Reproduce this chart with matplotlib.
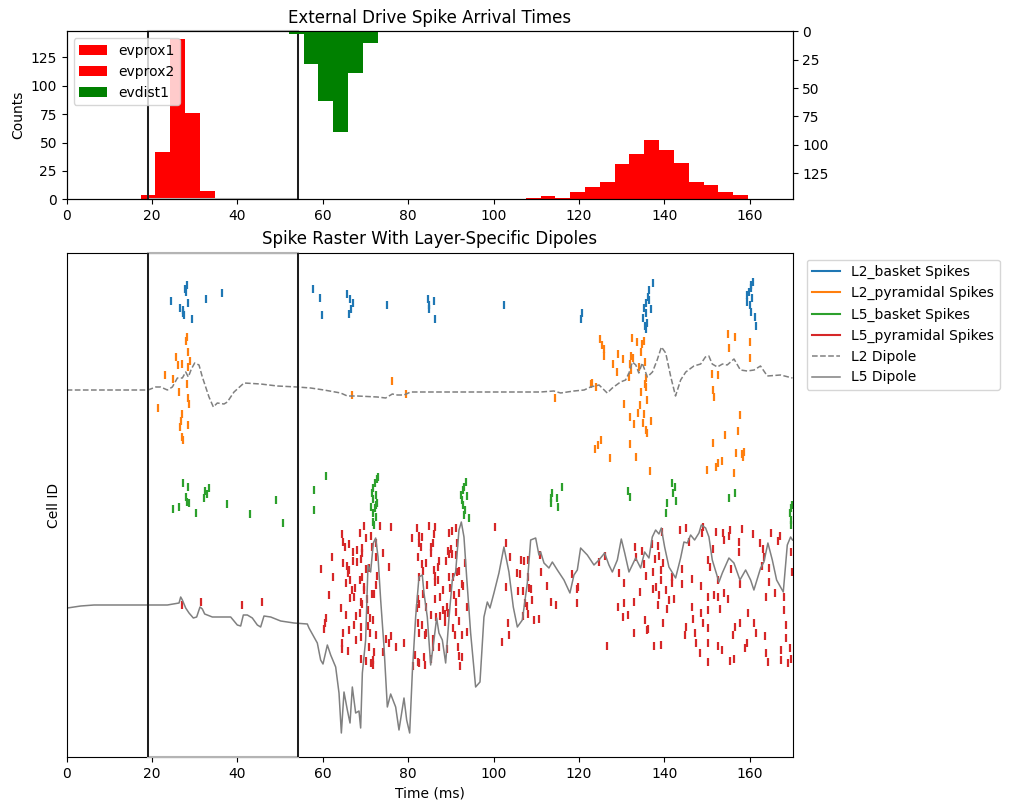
import numpy as np
import matplotlib
matplotlib.use("Agg")
import matplotlib.pyplot as plt
from matplotlib.lines import Line2D
from matplotlib.patches import Rectangle

# ---------------- external drive histograms ----------------
evprox1_left = [17.3, 20.77, 24.24, 27.71, 31.18]
evprox1_counts = [4, 42, 141, 76, 7]
evprox2_left = [107.52, 110.99, 114.46, 117.93, 121.4, 124.87, 128.34, 131.81,
                135.28, 138.75, 142.22, 145.69, 149.16, 152.63, 156.1]
evprox2_counts = [1, 3, 1, 6, 11, 15, 31, 40, 52, 43, 32, 15, 13, 6, 4]
evdist1_left = [52.0, 55.47, 58.94, 62.41, 65.88, 69.35]
evdist1_counts = [2, 29, 61, 89, 37, 10]
bin_width = 3.47

window = (19.0, 54.2)

# ---------------- spikes (time ms, cell id) ----------------
l2_basket_t = [28.26, 27.63, 27.87, 24.36, 28.49, 32.55, 36.30, 26.46, 27.32, 27.17, 27.40, 29.27,
               57.61, 59.25, 59.72, 65.57, 66.28, 66.98, 66.51, 66.04, 74.94, 84.54, 84.78, 84.78, 85.95, 86.18, 102.34,
               120.61, 120.38, 137.24, 136.30, 136.22, 136.46, 135.60, 135.21, 136.77, 135.68, 134.90, 135.83, 135.44, 135.68,
               160.73, 160.34, 160.19, 159.88, 159.41, 160.42, 159.25, 160.03, 160.19, 161.12, 161.36]
l2_basket_id = [471, 467, 464, 455, 453, 457, 463, 448, 446, 443, 441, 437,
                467, 458, 441, 462, 457, 453, 447, 442, 451, 457, 451, 447, 455, 437, 451,
                443, 437, 473, 466, 459, 456, 453, 448, 447, 443, 438, 433, 430, 427,
                474, 471, 468, 464, 461, 458, 454, 451, 444, 439, 430]

l2_pyr = [(28.10, 419), (27.87, 415), (28.34, 404), (25.53, 399), (28.80, 395), (26.0, 391), (26.93, 392),
          (28.34, 389), (22.95, 381), (24.82, 377), (28.10, 372), (26.23, 364), (28.34, 358), (28.57, 352),
          (21.31, 348), (26.93, 342), (26.70, 335), (26.46, 329), (28.34, 331), (26.93, 319), (27.17, 316),
          (76.11, 375), (66.75, 361), (79.39, 362),
          (114.29, 358), (124.83, 417), (125.30, 411), (125.76, 407), (125.76, 400), (127.87, 392), (129.04, 402),
          (130.21, 397), (128.81, 384), (122.72, 372), (122.95, 373), (123.89, 369), (132.09, 400), (132.55, 398),
          (132.32, 418), (133.49, 414), (134.66, 412), (135.13, 415), (134.43, 404), (135.36, 394), (131.85, 392),
          (132.09, 386), (131.62, 379), (134.04, 389), (135.68, 378), (135.36, 372), (135.60, 369), (134.43, 364),
          (135.83, 356), (130.45, 352), (134.19, 351), (133.73, 343), (131.85, 339), (135.13, 342), (134.90, 333),
          (132.79, 332), (136.77, 335), (135.60, 326), (135.83, 323), (125.06, 316), (124.36, 311), (123.66, 307),
          (131.85, 312), (127.17, 298), (133.26, 299), (136.54, 285), (154.80, 422), (156.44, 419), (155.04, 408),
          (159.95, 414), (159.95, 398), (151.05, 382), (152.46, 381), (151.29, 366), (151.52, 359), (157.61, 341),
          (154.10, 321), (157.14, 325), (151.29, 313), (156.68, 303), (158.08, 302), (158.55, 304), (158.31, 299),
          (153.40, 295), (152.46, 293), (151.99, 289), (149.88, 286), (156.21, 283)]
l2_pyramidal_t = [p[0] for p in l2_pyr]
l2_pyramidal_id = [p[1] for p in l2_pyr]

l5_bas = [(27.17, 273), (28.34, 269), (32.32, 265), (33.25, 268), (32.79, 262), (27.87, 259), (28.10, 254),
          (28.57, 253), (32.08, 258), (24.82, 247), (26.23, 249), (30.21, 243), (37.47, 252), (42.85, 242),
          (48.94, 256), (50.58, 233), (60.66, 280), (57.85, 266), (57.85, 246),
          (72.91, 279), (72.60, 277), (72.13, 273), (71.82, 268), (71.51, 263), (72.44, 261), (71.66, 257),
          (72.76, 253), (71.19, 249), (72.13, 248), (71.82, 243), (72.44, 239), (71.66, 234), (71.98, 231),
          (72.37, 251),
          (93.44, 274), (93.05, 269), (92.74, 266), (92.43, 261), (93.83, 260), (92.58, 256), (92.90, 251),
          (93.36, 246), (93.05, 241), (94.14, 238),
          (113.35, 258), (113.59, 263), (113.35, 253), (114.76, 258), (114.99, 249), (115.93, 269), (131.38, 265),
          (131.85, 259), (141.69, 273), (142.39, 269), (141.92, 263), (142.62, 255), (140.52, 253), (140.28, 243),
          (155.04, 258), (156.44, 263), (169.40, 243), (169.71, 248), (169.55, 236), (169.95, 251), (169.55, 231)]
l5_basket_t = [p[0] for p in l5_bas]
l5_basket_id = [p[1] for p in l5_bas]

l5_pyr = [(26.93, 151), (31.38, 154), (40.98, 151), (45.66, 154),
          (73.30, 230), (75.88, 229), (69.63, 230), (68.62, 223), (64.40, 222), (70.18, 218), (71.27, 220),
          (64.72, 214), (66.12, 212), (65.11, 209), (67.06, 204), (68.07, 206), (69.09, 208), (71.43, 209),
          (72.44, 213), (74.08, 203), (62.22, 199), (67.14, 195), (68.07, 194), (68.85, 197), (69.24, 203),
          (72.37, 199), (64.72, 193), (65.57, 190), (59.49, 187), (66.20, 186), (65.96, 183), (70.10, 187),
          (75.41, 189), (62.45, 179), (66.28, 176), (68.62, 176), (69.24, 179), (70.88, 188), (72.60, 180),
          (65.42, 173), (72.37, 171), (66.82, 166), (67.53, 168), (69.71, 169), (69.63, 166), (71.98, 162),
          (71.58, 162), (61.36, 161), (66.35, 158), (67.29, 159), (69.01, 154), (69.16, 152), (70.41, 157),
          (64.17, 148), (65.50, 141), (67.76, 140), (68.62, 143), (70.49, 146), (60.66, 138), (70.96, 138),
          (60.58, 133), (67.29, 131), (71.74, 136), (60.34, 127), (70.65, 130), (66.20, 126), (64.72, 123),
          (68.93, 129), (70.96, 123), (72.37, 121), (67.84, 116), (68.85, 119), (74.71, 117), (76.03, 120),
          (75.41, 113), (77.05, 109), (78.92, 113), (64.48, 113), (64.40, 107), (65.81, 105), (70.88, 109),
          (74.00, 104), (71.90, 104), (68.85, 97), (70.10, 95), (71.19, 93), (71.82, 96), (71.82, 91),
          (82.12, 228), (84.93, 230), (86.34, 229), (89.54, 223), (90.32, 225), (91.10, 228), (80.80, 218),
          (82.44, 220), (83.29, 219), (86.10, 222), (82.51, 213), (83.06, 209), (85.87, 213), (85.25, 209),
          (91.33, 213), (90.01, 207), (89.23, 205), (89.54, 202), (90.24, 202), (91.26, 201), (82.36, 199),
          (84.23, 193), (83.14, 192), (87.27, 195), (85.40, 203), (88.76, 195), (86.88, 189), (86.10, 186),
          (83.37, 185), (91.33, 184), (91.80, 185), (93.29, 193), (82.59, 179), (86.26, 180), (87.04, 176),
          (89.54, 179), (90.48, 179), (84.31, 171), (86.26, 174), (88.06, 166), (89.77, 168), (92.50, 172),
          (92.90, 170), (91.80, 163), (83.53, 162), (87.35, 159), (86.34, 157), (90.71, 161), (82.20, 157),
          (82.44, 152), (82.12, 148), (84.07, 149), (91.10, 154), (93.75, 149), (89.15, 149), (88.21, 146),
          (88.68, 142), (89.38, 143), (85.32, 141), (86.49, 139), (87.51, 140), (91.18, 144), (82.36, 133),
          (83.14, 131), (84.15, 123), (83.84, 121), (82.59, 123), (88.52, 134), (90.55, 128), (91.80, 135),
          (92.58, 121), (93.83, 124), (91.02, 121), (91.65, 109), (87.12, 109), (85.71, 117), (85.87, 109),
          (88.99, 107), (81.65, 101), (82.36, 94), (83.68, 99), (84.00, 91), (82.51, 93), (85.32, 97),
          (81.19, 90), (92.66, 99), (92.19, 90), (91.96, 100),
          (100.39, 229), (102.81, 213), (103.90, 199), (106.48, 196), (107.10, 195), (108.12, 196),
          (110.77, 201), (105.54, 183), (106.17, 182), (107.96, 179), (102.96, 169), (105.78, 165),
          (106.79, 165), (108.27, 168), (108.74, 167), (109.05, 156), (107.41, 153), (107.80, 150),
          (106.79, 140), (108.12, 142), (109.44, 136), (110.69, 137), (103.28, 133), (103.67, 121), (102.03, 114),
          (111.01, 184), (112.42, 170), (113.35, 154), (114.68, 151), (118.27, 182), (119.44, 167), (119.83, 169),
          (119.44, 153), (126.47, 110), (124.59, 194), (126.08, 200), (129.28, 183), (130.45, 173), (129.04, 149),
          (130.21, 139), (130.45, 153), (131.38, 141), (132.79, 154), (132.79, 123), (133.02, 209), (133.26, 199),
          (134.19, 164), (134.66, 205), (135.13, 192), (135.60, 180), (135.36, 136), (135.83, 126), (136.15, 127),
          (137.00, 212), (137.24, 184), (137.24, 167), (137.47, 110), (137.71, 197), (137.94, 169), (138.41, 210),
          (138.41, 151), (138.64, 200), (138.64, 161), (139.11, 186), (139.11, 176), (139.11, 111), (139.35, 224),
          (139.58, 193), (139.58, 133), (140.28, 166), (140.52, 147), (140.99, 156), (141.69, 179), (141.69, 173),
          (142.16, 157), (143.56, 226), (144.03, 187), (144.03, 172), (144.73, 121), (144.97, 228), (144.97, 129),
          (145.67, 214), (146.37, 177), (146.37, 149), (146.61, 137), (147.07, 123), (147.31, 113), (148.25, 103),
          (148.48, 170), (148.48, 143), (148.71, 223), (148.95, 229), (148.95, 133), (150.12, 196), (150.12, 159),
          (150.12, 146), (150.12, 128), (150.12, 113), (150.12, 94), (150.59, 189), (151.29, 207), (151.52, 161),
          (151.99, 224), (152.46, 176), (152.46, 159), (152.46, 110), (152.93, 147), (153.40, 106), (153.63, 223),
          (153.86, 216), (153.86, 163), (154.80, 157), (155.04, 220), (155.27, 226), (155.27, 95), (155.50, 187),
          (155.97, 121), (156.21, 97), (156.44, 129), (157.38, 214), (157.38, 204), (157.61, 172), (157.61, 133),
          (158.08, 227), (158.78, 108), (159.25, 113), (159.56, 143), (160.66, 222), (160.89, 133), (161.36, 123),
          (162.30, 213), (162.76, 190), (163.00, 207), (163.23, 199), (163.47, 120), (163.70, 159), (163.70, 103),
          (164.17, 94), (164.40, 188), (164.40, 174), (164.87, 223), (165.81, 163), (166.51, 215), (166.98, 220),
          (167.21, 106), (167.21, 96), (167.92, 159), (167.92, 146), (168.38, 131), (168.38, 118), (168.85, 93),
          (169.32, 108), (169.55, 204), (169.55, 97), (169.79, 184)]
l5_pyramidal_t = [p[0] for p in l5_pyr]
l5_pyramidal_id = [p[1] for p in l5_pyr]

# ---------------- dipoles (a.u.) ----------------
l2_dipole_t = [0, 19.05, 20.84, 22.01, 23.58, 24.75, 25.92, 27.09, 27.87, 28.49, 29.2, 29.98, 30.99, 31.77,
               32.55, 33.33, 34.35, 35.28, 36.85, 37.62, 39.19, 41.53, 45.43, 49.34, 54.02, 57.14, 60.27,
               64.17, 65.73, 68.07, 72.76, 74.71, 76.27, 77.44, 79.0, 80.56, 83.68, 91.49, 99.3, 111.0,
               114.1, 115.7, 118.8, 121.2, 122.7, 124.7, 126.6, 127.8, 129.7, 130.9, 131.7, 132.5, 133.3,
               134.0, 134.8, 136.0, 137.2, 138.3, 139.3, 140.3, 141.5, 142.6, 143.8, 145.0, 146.9, 148.5,
               149.6, 150.4, 151.2, 152.4, 153.6, 154.7, 156.3, 157.8, 159.4, 161.0, 162.5, 164.1, 167.2, 170.0]
l2_dipole = [0, 0, 3, 3, 0, 3, 12, 12, 18, 13, 21, 27, 25, 13, 3, -7, -17, -13, -14, -12,
             -2, 7, 6, 4, 3, 2, 0, -3, -6, -6, -7, -8, -4, -5, -5, -2, -2, -2, -2, -2,
             -1, -3, -1, 0, 3, 5, -3, 2, 8, 10, 17, 28, 25, 17, 27, 13, 18, 30, 43, 37,
             13, -6, 10, 18, 24, 26, 33, 34, 26, 23, 26, 25, 31, 20, 19, 20, 24, 14, 15, 12]

l5_dipole_t = [0.16, 3.28, 6.4, 19.05, 23.58, 26.31, 26.7, 27.09, 27.87, 28.65, 29.66, 30.44, 31.22, 31.77,
               32.32, 34.11, 36.85, 38.41, 39.19, 39.96, 40.75, 41.37, 42.31, 43.48, 44.65, 45.43, 46.21,
               47.78, 50.12, 53.24, 56.36,
               56.75, 57.92, 58.7, 59.48, 60.03, 61.05, 61.83, 63.0, 63.78, 64.33, 64.95, 65.73, 66.36, 66.9,
               67.68, 68.46, 68.85, 69.25, 70.02, 70.57, 71.19, 71.82, 72.37, 72.92, 73.54, 74.32, 75.1,
               75.88, 77.05, 77.83, 79.0, 79.63, 80.33, 80.95, 81.73, 82.51, 83.29, 83.68, 84.46, 85.25,
               86.02, 86.65, 87.19, 87.98, 88.76, 89.54, 90.32, 91.1, 91.88, 92.43, 93.05, 93.68, 94.61,
               95.78, 96.8, 97.73, 98.52, 99.14, 100.07, 101.24, 102.41, 103.58, 104.6, 105.55, 106.72,
               107.89, 108.67, 109.84, 110.61,
               111.0, 111.79, 112.95, 113.75, 114.92, 116.47, 117.87, 118.81, 119.6, 120.37, 121.94, 123.5,
               124.66, 126.0, 127.0, 127.8, 128.97, 129.9, 130.7, 131.7, 133.26, 134.43, 135.36, 136.38,
               137.16, 137.94, 138.72, 139.27, 140.05, 141.06, 142.62, 143.79, 144.57, 145.36, 146.14,
               147.07, 148.09, 148.64, 149.65, 150.43, 151.21, 152.78, 153.56, 155.11, 156.28, 157.69,
               159.02, 160.19, 160.96, 162.53, 163.3, 164.24, 165.27, 166.28, 167.84, 168.78, 169.55, 170.0]
l5_dipole = [-3, -1, 0, 0, 0, 2, 8, 5, -3, -8, -13, -12, -2, -4, -9, -12, -12, -12, -16, -20,
             -21, -10, -10, -13, -20, -22, -11, -12, -16, -18, -19,
             -23, -32, -38, -55, -59, -40, -50, -62, -88, -128, -87, -105, -118, -82, -108, -106, -123,
             -68, -35, 40, 33, 62, 67, 48, 5, -42, -102, -89, -102, -125, -93, -115, -128, -68, -12, 28,
             30, 12, -12, -60, -35, -13, -28, -35, -58, -13, 25, 33, 75, 83, 68, 28, -28, -82, -77, -12,
             3, -3, 12, 32, 58, 33, -2, -22, -15, 22, 65, 67, 50,
             53, 42, 37, 43, 35, 25, 12, 30, 35, 57, 50, 40, 45, 52, 40, 33, 45, 66, 52, 33, 47, 37, 53,
             47, 68, 75, 71, 77, 58, 38, 27, 47, 63, 62, 70, 65, 72, 80, 77, 68, 45, 23, 32, 47, 42, 25,
             35, 25, 15, 37, 43, 62, 45, 25, 13, 60, 68, 65]

l2_dipole_offset = 366
l5_dipole_offset = 151


def draw_window(ax):
    ax.add_patch(Rectangle((window[0], 0), window[1] - window[0], 1,
                           transform=ax.get_xaxis_transform(), fill=False,
                           edgecolor='#b4b4b4', linewidth=1.5, zorder=3, clip_on=False))
    for xv in window:
        ax.axvline(xv, color='black', linewidth=1.2, zorder=4)


# ---------------- figure ----------------
W, H = 1011, 811
fig = plt.figure(figsize=(W / 100, H / 100), dpi=100)
ax_top = fig.add_axes([66.7 / W, 1 - 199.3 / H, (792.5 - 66.7) / W, 168 / H])
ax_bot = fig.add_axes([66.7 / W, 1 - 757.3 / H, (792.5 - 66.7) / W, (757.3 - 252.7) / H])

# top histogram
h1 = ax_top.bar(evprox1_left, evprox1_counts, width=bin_width, align='edge', color='red', label='evprox1')
h2 = ax_top.bar(evprox2_left, evprox2_counts, width=bin_width, align='edge', color='red', label='evprox2')
ax_top.set_ylim(0, 148)
ax_top.set_xlim(0, 170)
ax_top.set_yticks([0, 25, 50, 75, 100, 125])
ax_top.set_xticks(range(0, 161, 20))
ax_top.set_ylabel('Counts')
ax_top.set_title('External Drive Spike Arrival Times')
draw_window(ax_top)

ax_tw = ax_top.twinx()
h3 = ax_tw.bar(evdist1_left, evdist1_counts, width=bin_width, align='edge', color='green', label='evdist1')
ax_tw.set_ylim(148, 0)
ax_tw.set_yticks([0, 25, 50, 75, 100, 125])
ax_top.legend(handles=[h1, h2, h3], loc='upper left')

# raster
spike_sets = [
    (l2_basket_t, l2_basket_id, 'tab:blue', 'L2_basket Spikes'),
    (l2_pyramidal_t, l2_pyramidal_id, 'tab:orange', 'L2_pyramidal Spikes'),
    (l5_basket_t, l5_basket_id, 'tab:green', 'L5_basket Spikes'),
    (l5_pyramidal_t, l5_pyramidal_id, 'tab:red', 'L5_pyramidal Spikes'),
]
handles = []
for t, ids, col, lab in spike_sets:
    ax_bot.scatter(t, ids, marker='|', s=26, linewidths=1.6, color=col)
    handles.append(Line2D([0], [0], color=col, lw=1.5, label=lab))

ax_bot.plot(l2_dipole_t, np.array(l2_dipole) + l2_dipole_offset, color='grey', lw=1.1, ls='--')
ax_bot.plot(l5_dipole_t, np.array(l5_dipole) + l5_dipole_offset, color='grey', lw=1.1)
handles.append(Line2D([0], [0], color='grey', lw=1.1, ls='--', label='L2 Dipole'))
handles.append(Line2D([0], [0], color='grey', lw=1.1, label='L5 Dipole'))

draw_window(ax_bot)
ax_bot.set_xlim(0, 170)
ax_bot.set_ylim(-1.3, 503.3)
ax_bot.set_xticks(range(0, 161, 20))
ax_bot.set_yticks([])
ax_bot.set_xlabel('Time (ms)')
ax_bot.set_ylabel('Cell ID')
ax_bot.set_title('Spike Raster With Layer-Specific Dipoles')
ax_bot.legend(handles=handles, loc='upper left', bbox_to_anchor=(1.01, 1.0))

fig.savefig('out.png', dpi=100)
